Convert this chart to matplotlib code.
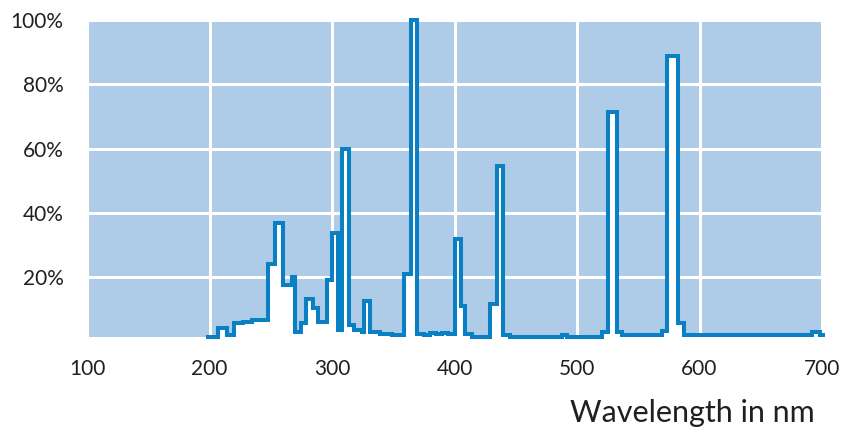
import matplotlib
matplotlib.use("Agg")
import matplotlib.pyplot as plt

plt.rcParams['font.family'] = ['Lato', 'DejaVu Sans']

# step edges (nm) and relative level (%) for each step
golf = [198.5, 207.2, 214.0, 220.0, 227.1, 234.4, 248.0, 253.5, 260.2, 267.1,
        270.2, 275.1, 278.8, 284.1, 288.8, 295.7, 299.6, 304.9, 307.8, 314.1,
        317.6, 324.2, 326.5, 331.4, 339.2, 349.0, 358.8, 364.2, 369.1, 375.0,
        380.0, 385.0, 390.0, 395.0, 400.0, 404.9, 408.6, 414.0, 429.0, 434.3,
        439.6, 445.3, 487.5, 491.6, 520.2, 525.0, 532.4, 536.5, 569.1, 573.7,
        582.7, 587.3, 691.6, 698.4, 700.8]
nivel = [1.4, 4.4, 2.1, 5.8, 6.1, 6.7, 24.2, 37.0, 17.8, 20.0,
         3.1, 5.9, 13.4, 10.5, 6.2, 19.1, 33.9, 3.7, 60.0, 5.2,
         3.7, 3.0, 12.7, 3.1, 2.4, 2.0, 21.2, 100.0, 2.5, 2.2,
         2.6, 2.3, 2.8, 2.5, 32.0, 11.2, 2.3, 1.6, 11.7, 54.7,
         2.1, 1.6, 2.1, 1.6, 3.1, 71.5, 3.1, 2.1, 3.4, 88.9,
         5.7, 2.1, 3.0, 2.1]

xticks = [100, 200, 300, 400, 500, 600, 700]
yticks = [20, 40, 60, 80, 100]

y_plot = nivel + [nivel[-1]]

fig = plt.figure(figsize=(8.46, 4.32), dpi=100)
ax = fig.add_axes([87/846, (432-337)/432, 735/846, 317/432])
ax.set_facecolor('#aecbe8')

ax.fill_between(golf, 0, y_plot, step='post', color='white', zorder=3)
ax.step(golf, y_plot, where='post', color='#0a80c4', lw=2.9, zorder=4,
        clip_on=False, solid_joinstyle='miter')

ax.set_xlim(100, 700)
ax.set_ylim(1.5, 99.2)
ax.set_xticks(xticks)
ax.set_yticks(yticks)
ax.set_xticklabels([str(t) for t in xticks])
ax.set_yticklabels([f"{t}%" for t in yticks])
ax.grid(True, color='white', lw=2.2, zorder=2)
ax.set_axisbelow(True)
for s in ax.spines.values():
    s.set_visible(False)
ax.tick_params(length=0, labelsize=15, colors='#231f20')
ax.tick_params(axis='x', pad=16)
ax.tick_params(axis='y', pad=17)

fig.text(815/846, 1 - 413/432, "Wavelength in nm", ha='right', va='center',
         fontsize=22, color='#231f20')

fig.savefig("out.png", dpi=100)
